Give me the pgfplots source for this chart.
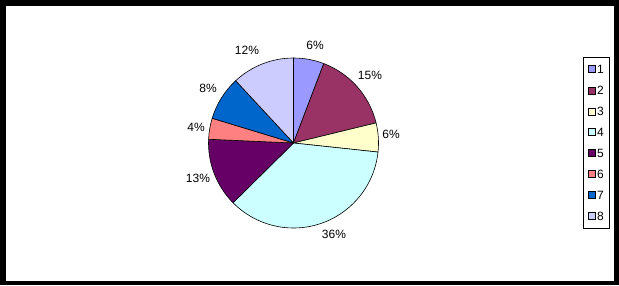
\documentclass[border=0pt]{standalone}
\usepackage{pgfplots}
\pgfplotsset{compat=1.18}
\usepackage{fontspec}
\setmainfont{Liberation Sans}
\definecolor{c1}{HTML}{9999FF}
\definecolor{c2}{HTML}{993366}
\definecolor{c3}{HTML}{FFFFCC}
\definecolor{c4}{HTML}{CCFFFF}
\definecolor{c5}{HTML}{660066}
\definecolor{c6}{HTML}{FF8080}
\definecolor{c7}{HTML}{0066CC}
\definecolor{c8}{HTML}{CCCCFF}
% slice: start percent, end percent, colour
\newcommand{\slice}[3]{%
  \filldraw[fill=#3,draw=black,line width=0.6pt,line join=round]
    (axis cs:293.5,-143) -- (axis cs:{293.5+85*cos(90-3.6*#1)},{-143+85*sin(90-3.6*#1)})
    arc[start angle={90-3.6*#1}, end angle={90-3.6*#2}, radius=85] -- cycle;}
\newcommand{\legitem}[3]{%
  \filldraw[fill=#2,draw=black,line width=0.5pt] (axis cs:588,{-#3-3.5}) rectangle (axis cs:595,{-#3+3.5});
  \node[anchor=west,inner sep=0pt,font=\fontsize{12bp}{14bp}\selectfont] at (axis cs:597,{-#3}) {#1};}
\begin{document}
\begin{tikzpicture}
\begin{axis}[x=1bp,y=1bp,xmin=0,xmax=619,ymin=-285,ymax=0,hide axis,clip=false,
  scale only axis]
\fill[black] (axis cs:0,-285) rectangle (axis cs:619,0);
\fill[white] (axis cs:6,-281) rectangle (axis cs:614,-6);
% values (percent): 5.8, 15.4, 5.5, 35.9, 13.1, 4.0, 8.4, 11.9
\slice{0}{5.8}{c1}
\slice{5.8}{21.2}{c2}
\slice{21.2}{26.7}{c3}
\slice{26.7}{62.6}{c4}
\slice{62.6}{75.7}{c5}
\slice{75.7}{79.7}{c6}
\slice{79.7}{88.1}{c7}
\slice{88.1}{100}{c8}
\begin{scope}[every node/.style={font=\fontsize{12bp}{14bp}\selectfont,inner sep=0pt}]
\node at (axis cs:315,-45) {6\%};
\node at (axis cs:370,-75) {15\%};
\node at (axis cs:391,-134) {6\%};
\node at (axis cs:334,-234) {36\%};
\node at (axis cs:198,-178) {13\%};
\node at (axis cs:196,-127) {4\%};
\node at (axis cs:208,-88) {8\%};
\node at (axis cs:247,-50) {12\%};
\end{scope}
\draw[black,line width=0.8pt] (axis cs:583.5,-228) rectangle (axis cs:609.5,-57);
\legitem{1}{c1}{69}
\legitem{2}{c2}{90.5}
\legitem{3}{c3}{111.5}
\legitem{4}{c4}{132}
\legitem{5}{c5}{153}
\legitem{6}{c6}{174}
\legitem{7}{c7}{195}
\legitem{8}{c8}{216}
\end{axis}
\end{tikzpicture}
\end{document}
